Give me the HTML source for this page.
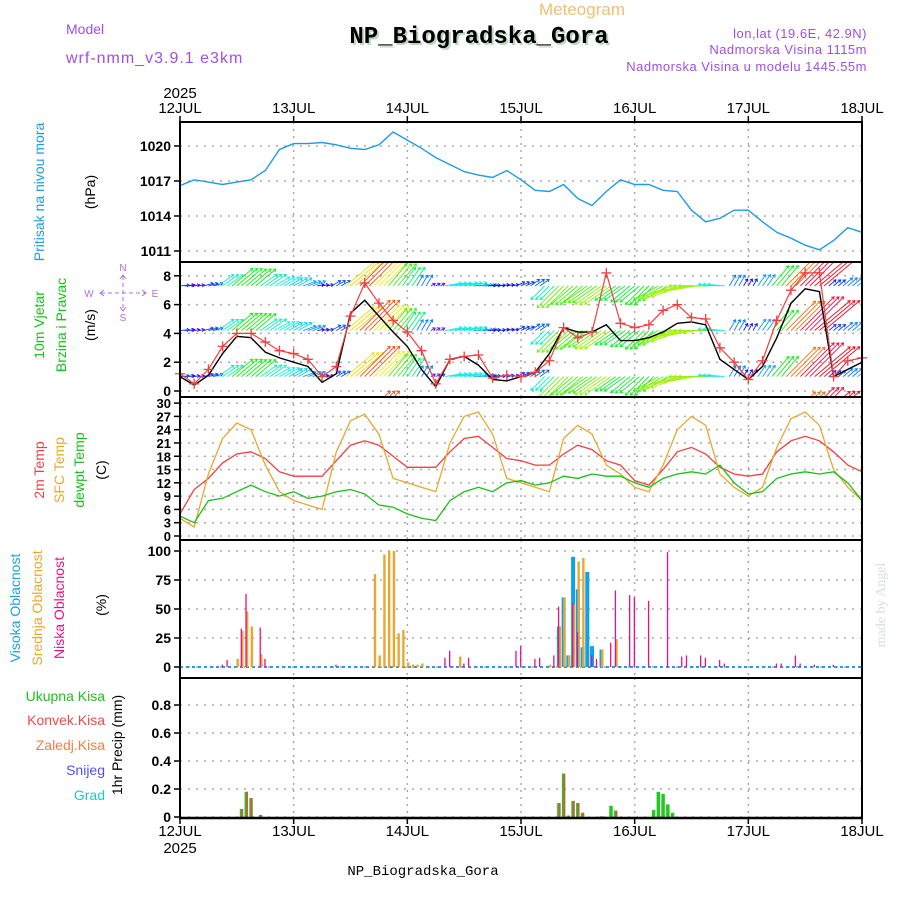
<!DOCTYPE html>
<html><head><meta charset="utf-8"><style>
body{margin:0;background:#fff;}
svg{display:block;font-family:"Liberation Sans",sans-serif;}
</style></head><body>
<svg id="chart" width="900" height="900" viewBox="0 0 900 900" xmlns="http://www.w3.org/2000/svg">
<rect x="0" y="0" width="900" height="900" fill="#fff"/>
<text x="582" y="15" font-size="17" fill="#f0c070" text-anchor="middle">Meteogram</text>
<text x="66" y="34" font-size="14" fill="#a050e0">Model</text>
<text x="66" y="63" font-size="16" fill="#a050e0" letter-spacing="1">wrf-nmm_v3.9.1 e3km</text>
<text x="481" y="45" font-size="24" font-weight="bold" font-family="Liberation Mono, monospace" fill="#bcd8bc" text-anchor="middle">NP_Biogradska_Gora</text>
<text x="479" y="43" font-size="24" font-weight="bold" font-family="Liberation Mono, monospace" fill="#000" text-anchor="middle">NP_Biogradska_Gora</text>
<text x="867" y="38" font-size="13" fill="#a050e0" text-anchor="end" letter-spacing="0.5">lon,lat (19.6E, 42.9N)</text>
<text x="867" y="54" font-size="13" fill="#a050e0" text-anchor="end" letter-spacing="0.5">Nadmorska Visina 1115m</text>
<text x="867" y="71" font-size="13" fill="#a050e0" text-anchor="end" letter-spacing="0.5">Nadmorska Visina u modelu 1445.55m</text>
<text x="180" y="98" font-size="15" text-anchor="middle">2025</text>
<text x="180" y="853" font-size="15" text-anchor="middle">2025</text>
<text x="423" y="875" font-size="14" font-family="Liberation Mono, monospace" text-anchor="middle">NP_Biogradska_Gora</text>
<text transform="translate(885,605) rotate(-90)" font-size="14" fill="#d8e0d8" text-anchor="middle" font-family="Liberation Serif, serif">made by Angel</text>
<text transform="translate(44,192) rotate(-90)" font-size="14" fill="#1e9be8" text-anchor="middle">Pritisak na nivou mora</text>
<text transform="translate(95,192) rotate(-90)" font-size="14" text-anchor="middle">(hPa)</text>
<text transform="translate(44,325) rotate(-90)" font-size="14" fill="#18c018" text-anchor="middle">10m Vjetar</text>
<text transform="translate(66,325) rotate(-90)" font-size="14" fill="#18c018" text-anchor="middle">Brzina i Pravac</text>
<text transform="translate(95,325) rotate(-90)" font-size="14" text-anchor="middle">(m/s)</text>
<g>
<line x1="123" y1="276" x2="123" y2="310" stroke="#b070e0" stroke-dasharray="4,3" stroke-width="1"/>
<line x1="101" y1="293" x2="145" y2="293" stroke="#b070e0" stroke-dasharray="4,3" stroke-width="1"/>
<path d="M120 279L123 275L126 279M120 307L123 311L126 307M104 290L100 293L104 296M142 290L146 293L142 296" stroke="#b070e0" fill="none"/>
<text x="123" y="271" font-size="10" fill="#b070e0" text-anchor="middle">N</text>
<text x="123" y="321" font-size="10" fill="#b070e0" text-anchor="middle">S</text>
<text x="89" y="297" font-size="10" fill="#b070e0" text-anchor="middle">W</text>
<text x="155" y="297" font-size="10" fill="#b070e0" text-anchor="middle">E</text>
</g>
<text transform="translate(44,470) rotate(-90)" font-size="14" fill="#f04040" text-anchor="middle">2m Temp</text>
<text transform="translate(64,470) rotate(-90)" font-size="14" fill="#e8a830" text-anchor="middle">SFC Temp</text>
<text transform="translate(84,470) rotate(-90)" font-size="14" fill="#18c018" text-anchor="middle">dewpt Temp</text>
<text transform="translate(106,470) rotate(-90)" font-size="14" text-anchor="middle">(C)</text>
<text transform="translate(20,608) rotate(-90)" font-size="14" fill="#1ca0e8" text-anchor="middle">Visoka Oblacnost</text>
<text transform="translate(42,608) rotate(-90)" font-size="14" fill="#e8a830" text-anchor="middle">Srednja Oblacnost</text>
<text transform="translate(64,608) rotate(-90)" font-size="14" fill="#e8108a" text-anchor="middle">Niska Oblacnost</text>
<text transform="translate(106,605) rotate(-90)" font-size="14" text-anchor="middle">(%)</text>
<g font-size="14" text-anchor="end">
<text x="105" y="701" fill="#20c020">Ukupna  Kisa</text>
<text x="105" y="725" fill="#f04848">Konvek.Kisa</text>
<text x="105" y="750" fill="#f08040">Zaledj.Kisa</text>
<text x="105" y="775" fill="#5050f0">Snijeg</text>
<text x="105" y="800" fill="#20c8c8">Grad</text>
</g>
<text transform="translate(122,745) rotate(-90)" font-size="14" text-anchor="middle">1hr Precip (mm)</text>
<defs><clipPath id="wclip"><rect x="181" y="263" width="680" height="133"/></clipPath></defs>
<g id="plot"></g>
</svg>
<script>
// ---- data (3-hourly, index i => hour i*3 from 12JUL 00) ----
const dayLabels = ["12JUL","13JUL","14JUL","15JUL","16JUL","17JUL","18JUL"];
const pressure = [1016.6,1017.1,1016.9,1016.7,1016.9,1017.1,1017.9,1019.7,1020.2,1020.2,1020.3,1020.1,1019.8,1019.7,1020.1,1021.2,1020.5,1019.8,1019.0,1018.4,1017.8,1017.5,1017.3,1017.9,1017.1,1016.2,1016.1,1016.7,1015.5,1014.9,1016.1,1017.1,1016.7,1016.7,1016.2,1016.1,1014.5,1013.5,1013.8,1014.5,1014.5,1013.5,1012.6,1012.1,1011.5,1011.1,1011.9,1013.0,1012.6];
const windSpeed = [1.0,0.4,1.1,2.6,3.8,3.7,2.7,2.3,2.0,1.7,0.6,1.2,5.4,6.3,5.2,4.1,3.1,1.5,0.3,2.2,2.4,1.8,0.8,0.7,1.0,1.3,2.6,4.4,4.1,4.1,4.6,3.5,3.5,3.7,4.1,4.7,4.8,4.6,2.2,1.5,0.8,1.7,3.7,6.1,7.1,6.9,1.0,1.5,2.0];
const windGust = [1.2,0.5,1.5,3.1,4.0,4.0,3.4,2.8,2.6,2.2,1.0,1.7,5.2,7.5,6.1,4.9,4.1,2.8,0.5,2.2,2.4,2.5,0.9,1.1,1.0,1.3,2.1,4.4,3.7,4.1,8.2,4.7,4.4,4.6,5.6,6.0,5.1,5.0,3.0,2.0,0.8,2.1,4.9,7.0,8.2,8.2,1.0,2.1,2.3];
const windDir = [5,10,15,35,40,40,35,30,30,20,10,30,40,45,45,50,55,60,30,10,10,5,5,10,25,35,225,225,220,215,215,215,220,225,210,200,190,180,175,60,60,55,50,45,45,40,40,40,35];
const temp2m = [5,10.5,13,16.5,18.5,19,17.5,14.5,13.5,13.5,13.5,17,20.5,21.5,20.5,18,15.5,15.5,15.5,19,22,22.5,20,17.5,17,16,16,18.5,20.5,19.5,17,16,12.5,11.5,15,19,20,18.5,15.5,14,13.5,14,19,21.5,22.5,21.5,19,16,14.5];
const tempSfc = [4,2,14,22,25.5,24,16,10,8,7,6,19,26,27.5,23,13,12,11,10,21,27,28,23,13,12,11,10,22,25,23,16,14,11,10,16,24,27,25,14,11,9,11,20,26.5,28,25,15,11,8];
const dewpt = [4.5,3,8,8.5,10,11.5,10,9,10,8.5,9,10,10.5,9.5,7,6.5,5,4,3.5,8,10,11,10,12,12.5,11.5,12,13.5,13,14,13.5,13.5,12,11,13,14,14.5,14,16,12,9.5,10,13,14,14.5,14,14.5,12,8];
const lowHours = [9,10,13,14,17,18,33,56,57,60,61,71,72,75,76,79,80,83,84,87,88,91,92,95,96,99,103,106,107,110,111,114,115,126,127,130,131,134,138];
const lowVals  = [2,6,33,63,34,7,2,8,14,3,8,14,18,7,8,10,52,55,30,10,7,21,66,62,60,57,99,9,10,10,8,6,3,3,3,10,3,2,2];
const midHours = [12,13,14,15,17,41,42,43,44,45,46,47,48,49,50,51,59,78,80,81,82,83,84,85,89,92];
const midVals  = [7,31,48,35,11,80,10,97,100,100,29,32,4,2,2,3,9,2,35,60,10,54,91,94,15,24];
const highHours = [80,81,82,83,84,85,86,87,89];
const highVals  = [35,60,10,95,67,17,82,18,15];
const rainHours = [13,14,15,17,80,81,82,83,84,85,89,91,92,100,101,102,103,104];
const rainTotal = [0.057,0.18,0.135,0.015,0.1,0.31,0.01,0.115,0.1,0.03,0.005,0.08,0.045,0.05,0.18,0.165,0.09,0.03];
const rainConv  = [0.057,0.18,0.135,0.015,0.1,0.31,0.01,0.115,0.1,0.03,0.005,0,0.045,0,0,0,0,0];
const presTicks = [1011,1014,1017,1020];
const windTicks = [0,2,4,6,8];
const tempTicks = [0,3,6,9,12,15,18,21,24,27,30];
const cloudTicks = [0,25,50,75,100];
const precipTicks = [0,0.2,0.4,0.6,0.8];

const NS="http://www.w3.org/2000/svg";
const plot=document.getElementById('plot');
const X0=180,X1=862;
const X=h=>X0+h*(X1-X0)/144;
const yP=v=>251-(v-1011)*11.67;
const yW=v=>391-v*14.4;
const yT=v=>536-v*4.43;
const yC=v=>667-v*1.16;
const yR=v=>817-v*140;
function mk(tag,attrs,parent){const e=document.createElementNS(NS,tag);for(const k in attrs)e.setAttribute(k,attrs[k]);(parent||plot).appendChild(e);return e;}

const panels=[[122,262,presTicks,yP,v=>String(v)],[262,397,windTicks,yW,v=>String(v)],[397,540,tempTicks,yT,v=>String(v)],[540,678,cloudTicks,yC,v=>String(v)],[678,818,precipTicks,yR,v=>v===0?"0":v.toFixed(1)]];
const pnames=['pressure','wind','temperature','cloud','precip'];
panels.forEach((p,pi)=>{
  const g=mk('g',{});
  
  
  for(let d=1;d<6;d++){
    const l=mk('line',{x1:X(d*24),x2:X(d*24),y1:p[0],y2:p[1],stroke:'#aaa','stroke-dasharray':'2,5','stroke-width':1.5},g);
    
    
  }
  p[2].forEach(v=>{
    const y=p[3](v);
    const l=mk('line',{x1:X0,x2:X1,y1:y,y2:y,stroke:'#aaa','stroke-dasharray':'2,6','stroke-width':1.5},g);
    
    
    const t=mk('line',{x1:X0-6,x2:X0,y1:y,y2:y,stroke:'#000','stroke-width':1.5},g);
    
    
    const tx=mk('text',{x:X0-9,y:y+5,'text-anchor':'end','font-size':pi==2?13:14,'font-weight':'bold'},g);
    tx.textContent=p[4](v);
    
    
  });
});
function line(arr,yf,color,name,w){
  const pts=arr.map((v,i)=>X(i*3).toFixed(1)+','+yf(v).toFixed(1)).join(' ');
  const l=mk('polyline',{points:pts,fill:'none',stroke:color,'stroke-width':w||1.3});
  
  
  return l;
}
line(pressure,yP,'#1e9be8','pressure-line',1.4);
const wg=mk('g',{'clip-path':'url(#wclip)'});


const rowsBase=[7.3,4.2,1.0,-2.1];
rowsBase.forEach(b=>{
  for(let h=0;h<=144;h++){
    const i=Math.min(48,Math.round(h/3));
    const s=windSpeed[i],a=windDir[i]*Math.PI/180,L=3+s*6.3;
    const x=X(h),y=yW(b),x2=x+L*Math.cos(a),y2=y-L*Math.sin(a);
    const hue=Math.max(-30,270-s*40);const c='hsl('+((hue+360)%360)+',90%,50%)';
    const hs=3;
    const ar=mk('path',{d:`M${x} ${y}L${x2} ${y2}M${x2-hs*Math.cos(a-0.6)} ${y2+hs*Math.sin(a-0.6)}L${x2} ${y2}L${x2-hs*Math.cos(a+0.6)} ${y2+hs*Math.sin(a+0.6)}`,stroke:c,'stroke-width':0.9,fill:'none'},wg);
    
    
  }
});
line(windSpeed,yW,'#000','wind-speed-line',1.4);
line(windGust,yW,'#f04040','wind-gust-line',1.2);
windGust.forEach((v,i)=>{
  const x=X(i*3),y=yW(v);
  const m=mk('path',{d:`M${x-5} ${y}H${x+5}M${x} ${y-5}V${y+5}`,stroke:'#f04040','stroke-width':1.3});
  
  
});
line(temp2m,yT,'#f04040','temp-2m-line',1.3);
line(tempSfc,yT,'#e8a830','temp-sfc-line',1.3);
line(dewpt,yT,'#18c018','dewpt-line',1.3);
const zl=mk('line',{x1:X0,x2:X1,y1:yC(0),y2:yC(0),stroke:'#1ca0e8','stroke-width':2,'stroke-dasharray':'3,3'});


function bars(hours,vals,yf,w,off,color,name){
  hours.forEach((h,k)=>{
    const y=yf(vals[k]),y0=yf(0);
    const r=mk('rect',{x:X(h)-w/2+off,y:y,width:w,height:Math.max(0.5,y0-y),fill:color});
    
    
  });
}
bars(highHours,highVals,yC,4,0,'#10a0f0','high-cloud-bar');
bars(midHours,midVals,yC,2.4,0.8,'#e8a830','mid-cloud-bar');
bars(lowHours,lowVals,yC,1.3,-0.3,'#e8108a','low-cloud-bar');
bars(rainHours,rainTotal,yR,3.5,0,'#20c820','total-rain-bar');
bars(rainHours,rainConv,yR,1.6,0.6,'#f04848','convective-rain-bar');
[[122,2],[262,2],[397,2],[540,2],[678,2],[818,2.5]].forEach(f=>{
  const l=mk('line',{x1:X0-1,x2:X1+1,y1:f[0],y2:f[0],stroke:'#000','stroke-width':f[1]});
  
  
});
[X0,X1].forEach(x=>{
  const l=mk('line',{x1:x,x2:x,y1:121,y2:819,stroke:'#000','stroke-width':2});
  
  
});
dayLabels.forEach((d,k)=>{
  const x=X(k*24);
  [[113,122,116],[836,818,824]].forEach(r=>{
    const t=mk('text',{x:x,y:r[0],'text-anchor':'middle','font-size':15});
    t.textContent=d;
    
    
    const tk=mk('line',{x1:x,x2:x,y1:r[1],y2:r[2],stroke:'#000','stroke-width':1.5});
    
    
  });
});
</script>
</body></html>
